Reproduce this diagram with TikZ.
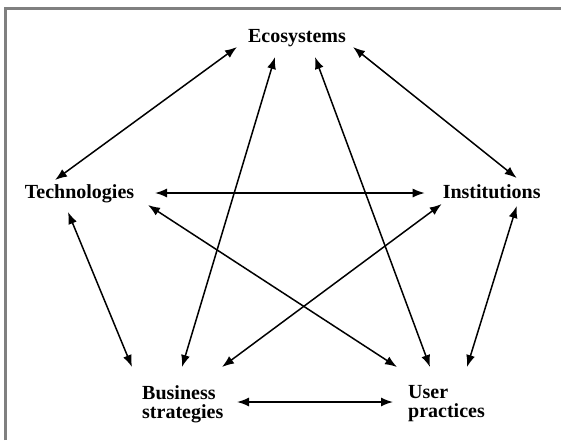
\documentclass[tikz,border=0pt]{standalone}
\usepackage{fontspec}
\setmainfont{Liberation Serif}
\usepackage{tikz}
\usetikzlibrary{arrows.meta}

\begin{document}
\begin{tikzpicture}[x=1pt,y=-1pt,
    field/.style={inner sep=0pt, font=\fontsize{20}{19}\selectfont\bfseries, align=left},
    link/.style={line width=1.5pt, {Latex[length=12pt,width=9pt]}-{Latex[length=12pt,width=9pt]}}]
    \useasboundingbox (0,0) rectangle (561,440);
    % Frame
    \draw[black!50, line width=3pt] (5.5,440) -- (5.5,8.5) -- (561,8.5);
    % Fields of the Pentagon
    \node[field, anchor=base] (eco) at (297,42) {Ecosystems};
    \node[field, anchor=base] (tech) at (79.5,198) {Technologies};
    \node[field, anchor=base] (inst) at (491.7,198.5) {Institutions};
    \node[field, anchor=west] (bus) at (142,404) {Business\\strategies};
    \node[field, anchor=west] (user) at (408,404) {User\\practices};
    %
    % Outer Edges:
    \draw[link] ([xshift=-60pt,yshift=-5pt]eco.base) -- ([xshift=-24.5pt,yshift=18pt]tech.base);
    \draw[link] ([xshift=56pt,yshift=-5pt]eco.base) -- ([xshift=25pt,yshift=20.5pt]inst.base);
    \draw[link] ([xshift=-11.5pt,yshift=-14pt]tech.base) -- ([xshift=-10pt,yshift=37pt]bus.west);
    \draw[link] ([xshift=25pt,yshift=-7.5pt]inst.base) -- ([xshift=59pt,yshift=37pt]user.west);
    \draw[link] ([xshift=95pt,yshift=2pt]bus.west) -- ([xshift=-15pt,yshift=2pt]user.west);
    %
    % Inner Edges:
    \draw[link] ([xshift=-22pt,yshift=-15pt]eco.base) -- ([xshift=40pt,yshift=37pt]bus.west);
    \draw[link] ([xshift=18pt,yshift=-15pt]eco.base) -- ([xshift=22pt,yshift=37pt]user.west);
    \draw[link] ([xshift=75.5pt,yshift=5pt]tech.base) -- ([xshift=-67pt,yshift=5.5pt]inst.base);
    \draw[link] ([xshift=68.5pt,yshift=-7pt]tech.base) -- ([xshift=-11pt,yshift=37pt]user.west);
    \draw[link] ([xshift=-50pt,yshift=-5.5pt]inst.base) -- ([xshift=80pt,yshift=37pt]bus.west);
\end{tikzpicture}
\end{document}
